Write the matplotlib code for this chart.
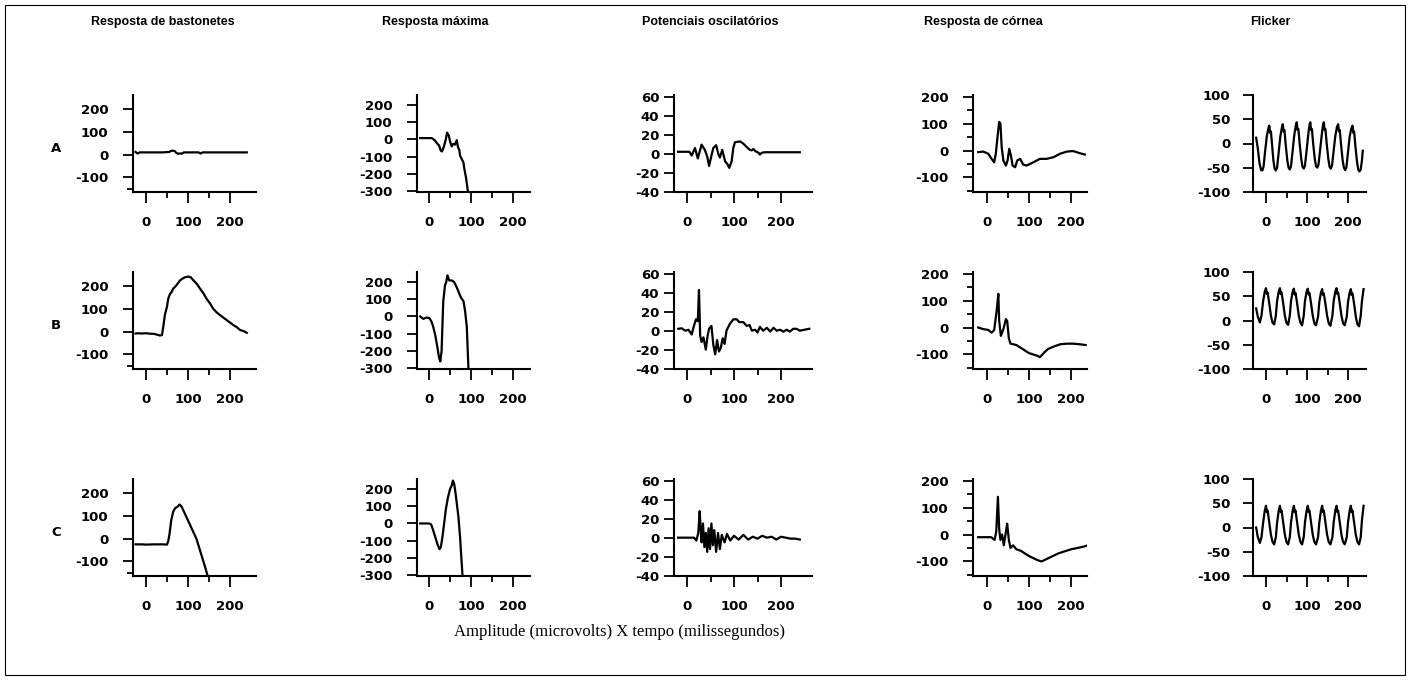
import matplotlib
matplotlib.use("Agg")
import matplotlib.pyplot as plt
from matplotlib.patches import Rectangle
from matplotlib.ticker import FixedLocator

W, H = 1411, 680

column_titles = ["Resposta de bastonetes", "Resposta máxima", "Potenciais oscilatórios",
                 "Resposta de córnea", "Flicker"]
row_labels = ["A", "B", "C"]
x_label_text = "Amplitude (microvolts) X tempo (milissegundos)"

x_ticks = [0, 100, 200]
x_minor = [50, 150]
y_ticks = [[-100, 0, 100, 200], [-300, -200, -100, 0, 100, 200], [-40, -20, 0, 20, 40, 60],
           [-100, 0, 100, 200], [-100, -50, 0, 50, 100]]
y_minor = [[-150], [], [], [-150, -50, 50, 150], []]

# ---- Row A ----
t_a1 = [-25, -20, -15, -10, 0, 20, 40, 55, 62, 68, 72, 76, 80, 86, 90, 100, 125, 130, 135, 150, 200, 240]
v_a1 = [12, 5, 10, 10, 10, 10, 10, 12, 18, 16, 8, 4, 5, 5, 10, 10, 10, 5, 10, 10, 10, 10]

t_a2 = [-21, -10, 0, 7, 14, 19, 24, 28, 31, 35, 40, 43, 47, 50, 54, 58, 62, 66, 69, 72, 74, 78, 82, 84, 88, 90, 93]
v_a2 = [8, 8, 8, 8, -6, -22, -35, -65, -70, -45, 0, 40, 24, -10, -40, -25, -30, -4, -44, -60, -94, -114, -134, -170, -220, -255, -310]

t_a3 = [-19, 5, 10, 17, 23, 31, 38, 43, 47, 52, 56, 62, 67, 70, 75, 81, 86, 90, 95, 98.5, 102, 113, 120,
        127, 134, 138, 141, 146, 152, 155, 159, 165, 240]
v_a3 = [2, 2, -2, 6, -5, 9.5, 4, -3, -13, -2, 6, 9, -1, -4, 4, -8, -11, -15, -8, 6, 12, 13, 10.5,
        7, 4, 3.5, 5, 2.5, 1, -1, 1, 1.5, 1.5]

t_a4 = [-21, -9, 3, 11, 17, 21, 25, 29, 32, 35, 39, 45, 49, 53, 57, 61, 67, 72, 79, 86, 94, 110, 126,
        142, 158, 174, 190, 205, 221, 233]
v_a4 = [-6, -4, -12, -31, -44, -12, 50, 106, 100, 12, -37, -56, -37, 6, -19, -56, -62, -37, -31, -52,
        -56, -44, -31, -31, -25, -12, -4, -2, -10, -15]

t_a5 = [-24, -20, -16, -12, -9, -6, -2, 2, 6, 8, 10, 12, 15, 18, 21, 24, 27, 31, 35, 39, 41, 43, 45, 48,
        52, 55, 58, 61, 65, 69, 73, 75, 77, 79, 82, 86, 89, 92, 95, 99, 103, 106, 108, 110, 112, 115,
        119, 122, 125, 128, 132, 136, 139, 141, 143, 145, 148, 152, 155, 158, 161, 165, 169, 173, 176,
        178, 180, 183, 187, 190, 193, 196, 200, 204, 208, 211, 213, 215, 218, 222, 225, 228, 231, 234, 236]
v_a5 = [12, -10, -40, -55, -56, -48, -15, 15, 32, 37, 22, 25, -5, -35, -52, -56, -50, -18, 15, 34, 40, 25,
        28, -2, -35, -50, -54, -47, -15, 18, 38, 44, 28, 30, 0, -32, -48, -52, -46, -15, 18, 38, 44, 28,
        30, 0, -32, -47, -50, -44, -13, 18, 38, 44, 28, 30, 0, -32, -48, -52, -46, -15, 15, 34, 40, 25,
        28, -2, -35, -50, -55, -50, -18, 14, 31, 37, 22, 25, -5, -38, -54, -58, -54, -35, -15]

# ---- Row B ----
t_b1 = [-25, -19, -10, 0, 10, 20, 33, 38, 41, 45, 50, 53, 57, 61, 65, 69, 75, 81, 87, 93, 101, 107,
        113, 121, 129, 137, 144, 152, 160, 168, 176, 184, 192, 200, 208, 216, 224, 232, 240]
v_b1 = [-8, -7, -8, -7, -9, -10, -17, -15, 20, 74, 110, 145, 165, 174, 190, 196, 210, 225, 233, 239, 242,
        238, 225, 210, 188, 168, 145, 125, 101, 85, 73, 62, 51, 40, 29, 20, 7, 3, -5]

t_b2 = [-21, -13.5, -5.5, 1, 6, 10, 15, 20, 24, 27, 30, 32, 34, 38, 41, 44, 48, 54, 60, 66, 71, 76, 82,
        86, 90, 94]
v_b2 = [0, -14, -6, -10, -30, -60, -110, -180, -240, -262, -200, -50, 90, 180, 200, 240, 210, 210, 200,
        170, 140, 110, 90, 30, -60, -310]

t_b3 = [-18.5, -11, -4, 3, 10, 15, 19, 23, 25.5, 28, 31, 35, 40, 44, 47, 52, 56, 60, 64, 68, 72, 76, 80,
        84, 91, 98.5, 106, 111, 120, 127, 133, 138, 145, 150, 155, 162, 170, 177, 184, 191, 198, 205,
        212, 219, 226, 233, 240, 250, 260]
v_b3 = [2, 2.5, 0, 1, -4, 5.5, 12, 10, 43, -5, -12, -7, -20, -5, 2, 5, -15, -25, -10, -22, -18, -8, -14,
        0, 7, 12, 12, 9, 9, 5, 6, 0, 1, -2, 4, 0, 3, -1, 3, 0, 1, -1, 1, -1, 2, 2, 0, 1, 2]

t_b4 = [-21, -9, 3, 11, 17, 23, 27, 29, 33, 39, 45, 48, 52, 56, 62, 70, 80, 90, 100, 110, 120, 126, 135,
        145, 160, 175, 190, 205, 220, 235]
v_b4 = [0, -6, -9, -19, -10, 62, 125, 25, -31, -6, 31, 25, -40, -60, -62, -65, -75, -85, -95, -100,
        -105, -110, -95, -80, -70, -62, -60, -60, -62, -65]

t_b5 = [-24, -20, -15, -11, -7, -3, 0, 2, 4, 8, 12, 16, 20, 24, 27, 31, 34, 36, 38, 42, 46, 50, 54, 58,
        61, 65, 68, 70, 72, 76, 80, 84, 88, 92, 95, 99, 102, 104, 106, 110, 114, 118, 122, 127, 130,
        134, 137, 139, 141, 145, 149, 153, 157, 162, 165, 169, 172, 174, 176, 180, 184, 188, 192, 197,
        200, 204, 207, 209, 211, 215, 219, 223, 227, 231, 234, 238]
v_b5 = [25, 8, -4, 10, 40, 60, 67, 55, 58, 35, 10, -5, -8, 10, 40, 60, 67, 55, 58, 35, 10, -5, -9,
        10, 40, 60, 66, 54, 57, 35, 10, -5, -10, 10, 40, 60, 66, 54, 57, 35, 10, -6, -10, 8, 38, 58,
        65, 53, 56, 34, 10, -6, -11, 10, 40, 60, 67, 55, 58, 35, 10, -6, -10, 8, 38, 58, 65, 53, 56,
        34, 8, -8, -12, 10, 40, 65]

# ---- Row C ----
t_c1 = [-25, -10, 0, 20, 40, 50, 53, 56, 60, 65, 70, 75, 80, 85, 90, 95, 100, 110, 120, 130, 140, 147]
v_c1 = [-25, -25, -26, -25, -25, -26, -10, 20, 80, 120, 135, 140, 150, 140, 120, 100, 80, 40, 0, -60,
        -120, -165]

t_c2 = [-21, -10, 0, 5, 10, 15, 20, 25, 28, 32, 36, 40, 45, 50, 54, 57, 60, 63, 66, 70, 74, 77, 80]
v_c2 = [0, 0, 0, -5, -40, -80, -120, -150, -140, -80, 0, 80, 150, 200, 220, 250, 230, 180, 120, 40,
        -80, -200, -310]

t_c3 = [-19, 15, 20, 24, 27, 29, 31, 34, 37, 40, 43, 46, 49, 52, 55, 58, 62, 66, 70, 74, 80, 85, 92,
        100, 110, 120, 130, 140, 150, 160, 170, 180, 190, 200, 210, 220, 230, 240]
v_c3 = [0, 0, -3, 5, 28, 10, -5, 15, -10, 5, -15, 10, -12, 15, -8, 8, -15, 5, -12, 3, -5, 4, -3, 2, -2,
        3, -2, 1, -1, 2, 0, 1, -2, 1, 0, -1, -1, -2]

t_c4 = [-21, 10, 18, 22, 26, 29, 32, 36, 40, 45, 48, 52, 56, 62, 70, 80, 100, 120, 130, 150, 170, 200,
        230, 240]
v_c4 = [-10, -10, -20, 10, 140, 20, -20, 0, -40, 10, 40, -20, -50, -40, -55, -60, -80, -95, -100, -85,
        -70, -55, -45, -40]

t_c5 = [-24, -20, -15, -11, -7, -3, 0, 2, 4, 8, 12, 16, 20, 24, 27, 31, 34, 36, 38, 42, 46, 50, 54, 58,
        61, 65, 68, 70, 72, 76, 80, 84, 88, 92, 95, 99, 102, 104, 106, 110, 114, 118, 122, 127, 130,
        134, 137, 139, 141, 145, 149, 153, 157, 162, 165, 169, 172, 174, 176, 180, 184, 188, 192, 197,
        200, 204, 207, 209, 211, 215, 219, 223, 227, 231, 234, 238]
v_c5 = [0, -20, -32, -20, 10, 35, 45, 32, 35, 10, -15, -30, -35, -20, 10, 35, 45, 32, 35, 10, -15,
        -30, -35, -20, 10, 35, 45, 32, 35, 10, -15, -30, -35, -20, 10, 35, 45, 32, 35, 10, -15, -30,
        -35, -20, 10, 35, 45, 32, 35, 10, -15, -30, -35, -20, 10, 35, 45, 32, 35, 10, -15, -30, -35,
        -20, 10, 35, 45, 32, 35, 10, -15, -30, -35, -20, 15, 45]

series = [
    [(t_a1, v_a1), (t_a2, v_a2), (t_a3, v_a3), (t_a4, v_a4), (t_a5, v_a5)],
    [(t_b1, v_b1), (t_b2, v_b2), (t_b3, v_b3), (t_b4, v_b4), (t_b5, v_b5)],
    [(t_c1, v_c1), (t_c2, v_c2), (t_c3, v_c3), (t_c4, v_c4), (t_c5, v_c5)],
]

# ---- layout (pixels) ----
col_left = [133, 417, 674, 973, 1253]
col_right = [256, 530, 812, 1087, 1366]
col_zero = [146, 429, 687, 987, 1266]
col_ppx = [0.42, 0.42, 0.47, 0.42, 0.41]
col_ypad = [10.8, 10.8, 3.6, 10.8, 9.4]
row_top = [95, 272, 479]
row_bot = [192, 369, 576]
col_ylim = [(-164, 262), (-306, 259), (-40.5, 62), (-154, 206), (-100.5, 100.5)]

fig = plt.figure(figsize=(W / 100, H / 100), dpi=100)
tick_font = dict(family="DejaVu Sans", weight="bold", size=9.5)

for r in range(3):
    for c in range(5):
        l, rr = col_left[c], col_right[c]
        t, b = row_top[r], row_bot[r]
        ax = fig.add_axes([l / W, 1 - b / H, (rr - l) / W, (b - t) / H])
        tt, vv = series[r][c]
        ax.plot(tt, vv, color="black", lw=1.6, solid_joinstyle="round", clip_on=True)
        ax.set_xlim((l - col_zero[c]) / col_ppx[c], (rr - col_zero[c]) / col_ppx[c])
        ax.set_ylim(*col_ylim[c])
        for s in ["top", "right"]:
            ax.spines[s].set_visible(False)
        for s in ["left", "bottom"]:
            ax.spines[s].set_linewidth(1.5)
        ax.xaxis.set_major_locator(FixedLocator(x_ticks))
        ax.xaxis.set_minor_locator(FixedLocator(x_minor))
        ax.yaxis.set_major_locator(FixedLocator(y_ticks[c]))
        ax.yaxis.set_minor_locator(FixedLocator(y_minor[c]))
        ax.tick_params(axis="x", which="major", direction="out", length=8, width=1.3, pad=9.5)
        ax.tick_params(axis="x", which="minor", direction="out", length=4.3, width=1.3)
        ax.tick_params(axis="y", which="major", direction="out", length=7, width=1.3, pad=col_ypad[c])
        ax.tick_params(axis="y", which="minor", direction="out", length=4.3, width=1.3)
        ax.set_xticklabels([str(v) for v in x_ticks], fontdict=tick_font)
        ax.set_yticklabels([str(v) for v in y_ticks[c]], fontdict=tick_font)
        ax.patch.set_alpha(0)

col_title_x = [163, 435, 710, 983, 1270]
for c in range(5):
    fig.text(col_title_x[c] / W, 1 - 22 / H, column_titles[c], ha="center", va="center",
             family="Liberation Sans", weight="bold", size=9)

row_label_y = [148, 325, 532]
for r in range(3):
    fig.text(56 / W, 1 - row_label_y[r] / H, row_labels[r], ha="center", va="center",
             family="DejaVu Sans", weight="bold", size=9.5)

fig.text(620 / W, 1 - 632 / H, x_label_text, ha="center", va="center",
         family="Liberation Serif", size=12)

fig.patches.append(Rectangle((5 / W, 5 / H), 1400 / W, 670 / H, transform=fig.transFigure,
                             fill=False, edgecolor="black", lw=0.8))

fig.savefig("out.png", dpi=100)
